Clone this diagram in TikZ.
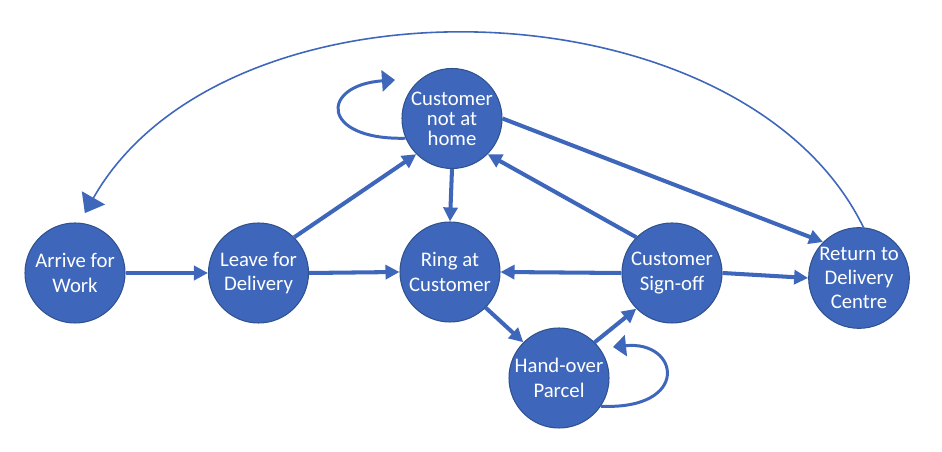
\documentclass[tikz,border=0pt]{standalone}
\usepackage{fontspec}
\setmainfont{Carlito}
\usepackage{tikz}
\usetikzlibrary{arrows.meta}
\definecolor{stateblue}{RGB}{62,103,187}
\definecolor{outline}{RGB}{47,82,143}
\tikzset{
    state/.style={circle, minimum size=2cm, inner sep=0pt, text centered, draw=outline, line width=0.6pt, fill=stateblue, text=white, align=center, font=\fontsize{11.8}{13.8}\selectfont},
    flow/.style={-{Triangle[length=2.8mm, width=2.8mm]}, line width=2.3pt, draw=stateblue},
    selfloop/.style={-{Triangle[length=2.6mm, width=4.2mm]}, line width=1.7pt, draw=stateblue},
    cycleflow/.style={-{Triangle[length=3.5mm, width=5.3mm]}, line width=0.9pt, draw=stateblue}
}
\begin{document}
\begin{tikzpicture}
    \useasboundingbox (0,0) rectangle (18.84,9.04);
    % States
    \node[state] (arrive) at (1.50,3.58) {Arrive for\\Work};
    \node[state] (leave) at (5.17,3.58) {Leave for\\Delivery};
    \node[state, font=\fontsize{11.8}{11.4}\selectfont] (nothome) at (9.04,6.67) {Customer\\not at\\home};
    \node[state] (ring) at (9.00,3.60) {Ring at\\Customer};
    \node[state] (handover) at (11.18,1.48) {Hand-over\\Parcel};
    \node[state] (signoff) at (13.44,3.58) {Customer\\Sign-off};
    \node[state] (retcentre) at (17.18,3.48) {Return to\\Delivery\\Centre};

    % Loop ends
    \coordinate (nhtip) at (7.90,7.44);
    \coordinate (hotip) at (12.26,2.10);

    % Flows
    \draw[flow] (arrive.east) -- (leave.west);
    \draw[flow] (leave.east) -- (ring.west);
    \draw[flow] (leave.north east) -- (nothome.south west);
    \draw[flow] (nothome.south) -- (ring.north);
    \draw[flow] (nothome.east) -- (retcentre.north west);
    \draw[flow] (signoff.north west) -- (nothome.south east);
    \draw[flow] (signoff.west) -- (ring.east);
    \draw[flow] (signoff.east) -- (retcentre.west);
    \draw[flow] (ring.south east) -- (handover.north west);
    \draw[flow] (handover.north east) -- (signoff.south west);

    % Self loops
    \draw[selfloop] (nothome.203) .. controls +(-1.72,-0.04) and +(-1.5,-0.1) .. (nhtip);
    \draw[selfloop] (handover.-34) .. controls +(1.8,-0.08) and +(1.34,0.14) .. (hotip);

    % Back to start
    \draw[cycleflow, shorten >=2.2mm] (retcentre.85) .. controls +(-2.42,4.96) and +(2.93,5.16) .. (arrive.85);
\end{tikzpicture}
\end{document}
